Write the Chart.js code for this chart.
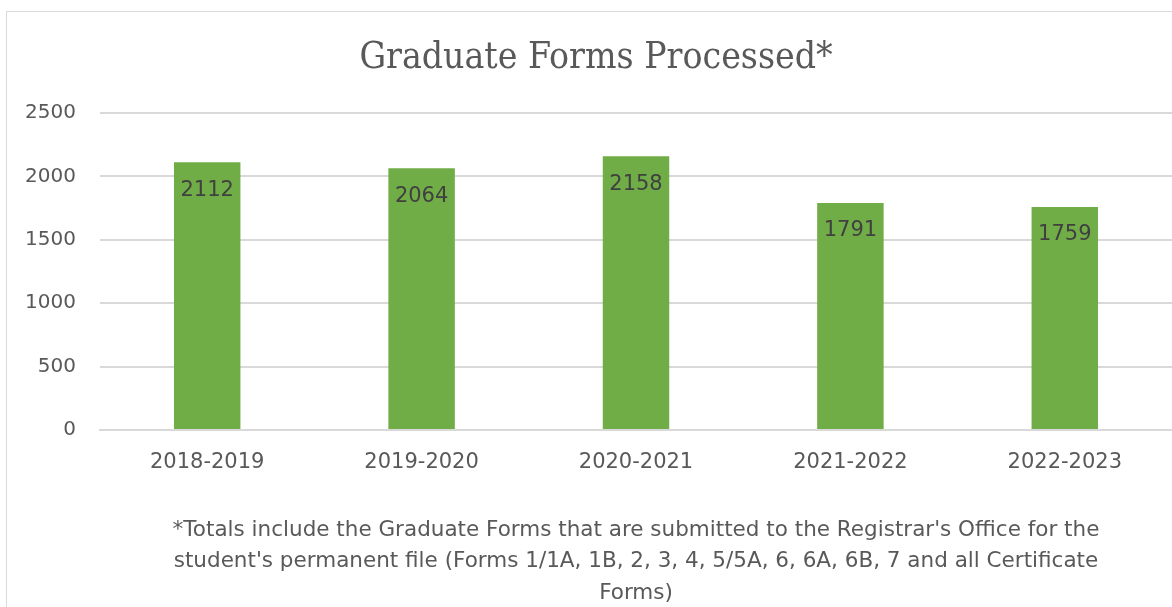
<!DOCTYPE html>
<html>
<head>
<meta charset="utf-8">
<script src="https://cdn.jsdelivr.net/npm/chart.js@4"></script>
<style>
  body { margin: 0; background: #fff; }
  #box {
    position: absolute; left: 6px; top: 11px; width: 1166px; height: 596px;
    border-left: 1px solid #d9d9d9; border-top: 1px solid #d9d9d9;
  }
  #box canvas { display: block; }
</style>
</head>
<body>
<div id="box"><canvas id="formsChart" width="1165" height="595"></canvas></div>
<script>
const years = ['2018-2019', '2019-2020', '2020-2021', '2021-2022', '2022-2023'];
const formsProcessed = [2112, 2064, 2158, 1791, 1759];
const yTicks = [0, 500, 1000, 1500, 2000, 2500];
const chartTitle = 'Graduate Forms Processed*';
const footnote = [
  "*Totals include the Graduate Forms that are submitted to the Registrar's Office for the",
  "student's permanent file (Forms 1/1A, 1B, 2, 3, 4, 5/5A, 6, 6A, 6B, 7 and all Certificate",
  'Forms)'
];

const textColor = '#595959';

// подписи значений внутри столбцов + заголовок + сноска
const extras = {
  id: 'extras',
  afterDatasetsDraw(chart) {
    const ctx = chart.ctx;
    const area = chart.chartArea;
    ctx.save();
    ctx.textAlign = 'center';
    ctx.textBaseline = 'middle';

    ctx.fillStyle = '#404040';
    ctx.font = '21px "DejaVu Sans"';
    chart.getDatasetMeta(0).data.forEach((bar, i) => {
      ctx.fillText(String(formsProcessed[i]), bar.x, bar.y + 28);
    });

    ctx.fillStyle = textColor;
    ctx.font = '37px "DejaVu Serif Condensed"';
    ctx.fillText(chartTitle, 589, 46);

    ctx.font = '21.5px "DejaVu Sans"';
    const cx = (area.left + area.right) / 2;
    footnote.forEach((line, i) => {
      ctx.fillText(line, cx, 518 + i * 31.5);
    });
    ctx.restore();
  }
};

new Chart(document.getElementById('formsChart'), {
  type: 'bar',
  data: {
    labels: years,
    datasets: [{
      data: formsProcessed,
      backgroundColor: '#70AD47',
      categoryPercentage: 1,
      barPercentage: 0.31
    }]
  },
  options: {
    responsive: false,
    animation: false,
    layout: { padding: { top: 101, left: 0, right: 0, bottom: 0 } },
    plugins: {
      legend: { display: false },
      title: { display: false },
      tooltip: { enabled: false }
    },
    scales: {
      x: {
        grid: { display: false, drawTicks: false },
        border: { color: '#d9d9d9', width: 2 },
        ticks: { color: textColor, font: { family: 'DejaVu Sans', size: 21 }, padding: 20 },
        afterFit: s => { s.height = 177; }
      },
      y: {
        min: 0,
        max: 2500,
        afterBuildTicks: s => { s.ticks = yTicks.map(v => ({ value: v })); },
        grid: { color: '#d9d9d9', lineWidth: 2, drawTicks: false },
        border: { display: false },
        ticks: {
          color: textColor,
          font: { family: 'DejaVu Sans', size: 20 },
          padding: 24,
          callback: v => String(v)
        },
        afterFit: s => { s.width = 93; }
      }
    }
  },
  plugins: [extras]
});
</script>
</body>
</html>
